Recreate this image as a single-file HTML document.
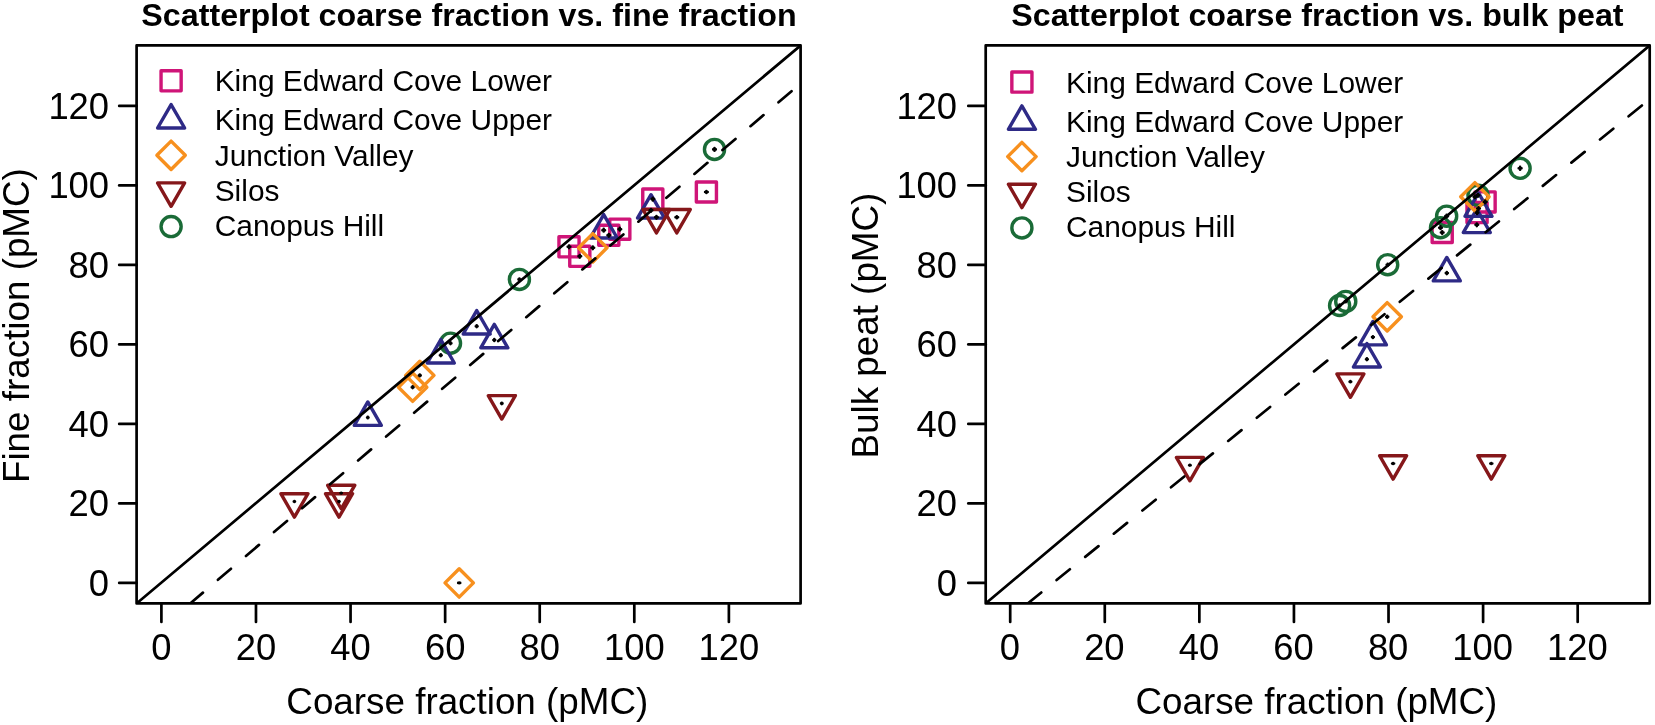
<!DOCTYPE html>
<html lang="en"><head><meta charset="utf-8"><title>Scatterplots</title>
<style>html,body{margin:0;padding:0;background:#fff}svg{display:block;will-change:transform;transform:translateZ(0)}</style></head>
<body>
<svg width="1655" height="725" viewBox="0 0 1655 725">
<g font-family="'Liberation Sans', Arial, Helvetica, sans-serif" fill="#000">
<text x="469.00" y="26.1" font-size="32.22" font-weight="bold" text-anchor="middle">Scatterplot coarse fraction vs. fine fraction</text>
<text x="467.30" y="713.7" font-size="36.8" text-anchor="middle">Coarse fraction (pMC)</text>
<text transform="translate(29.20,325.6) rotate(-90)" font-size="36.8" text-anchor="middle">Fine fraction (pMC)</text>
<line x1="161.40" y1="603.4" x2="161.40" y2="622.0" stroke="#000" stroke-width="2.7" stroke-linecap="round"/>
<text x="161.40" y="660.1" font-size="36.4" text-anchor="middle">0</text>
<line x1="136.6" y1="582.95" x2="119.20" y2="582.95" stroke="#000" stroke-width="2.7" stroke-linecap="round"/>
<text x="109.10" y="595.95" font-size="36.4" text-anchor="end">0</text>
<line x1="255.98" y1="603.4" x2="255.98" y2="622.0" stroke="#000" stroke-width="2.7" stroke-linecap="round"/>
<text x="255.98" y="660.1" font-size="36.4" text-anchor="middle">20</text>
<line x1="136.6" y1="503.45" x2="119.20" y2="503.45" stroke="#000" stroke-width="2.7" stroke-linecap="round"/>
<text x="109.10" y="516.45" font-size="36.4" text-anchor="end">20</text>
<line x1="350.56" y1="603.4" x2="350.56" y2="622.0" stroke="#000" stroke-width="2.7" stroke-linecap="round"/>
<text x="350.56" y="660.1" font-size="36.4" text-anchor="middle">40</text>
<line x1="136.6" y1="423.95" x2="119.20" y2="423.95" stroke="#000" stroke-width="2.7" stroke-linecap="round"/>
<text x="109.10" y="436.95" font-size="36.4" text-anchor="end">40</text>
<line x1="445.14" y1="603.4" x2="445.14" y2="622.0" stroke="#000" stroke-width="2.7" stroke-linecap="round"/>
<text x="445.14" y="660.1" font-size="36.4" text-anchor="middle">60</text>
<line x1="136.6" y1="344.45" x2="119.20" y2="344.45" stroke="#000" stroke-width="2.7" stroke-linecap="round"/>
<text x="109.10" y="357.45" font-size="36.4" text-anchor="end">60</text>
<line x1="539.72" y1="603.4" x2="539.72" y2="622.0" stroke="#000" stroke-width="2.7" stroke-linecap="round"/>
<text x="539.72" y="660.1" font-size="36.4" text-anchor="middle">80</text>
<line x1="136.6" y1="264.95" x2="119.20" y2="264.95" stroke="#000" stroke-width="2.7" stroke-linecap="round"/>
<text x="109.10" y="277.95" font-size="36.4" text-anchor="end">80</text>
<line x1="634.30" y1="603.4" x2="634.30" y2="622.0" stroke="#000" stroke-width="2.7" stroke-linecap="round"/>
<text x="634.30" y="660.1" font-size="36.4" text-anchor="middle">100</text>
<line x1="136.6" y1="185.45" x2="119.20" y2="185.45" stroke="#000" stroke-width="2.7" stroke-linecap="round"/>
<text x="109.10" y="198.45" font-size="36.4" text-anchor="end">100</text>
<line x1="728.88" y1="603.4" x2="728.88" y2="622.0" stroke="#000" stroke-width="2.7" stroke-linecap="round"/>
<text x="728.88" y="660.1" font-size="36.4" text-anchor="middle">120</text>
<line x1="136.6" y1="105.95" x2="119.20" y2="105.95" stroke="#000" stroke-width="2.7" stroke-linecap="round"/>
<text x="109.10" y="118.95" font-size="36.4" text-anchor="end">120</text>
<rect x="161.05" y="70.75" width="20.10" height="20.10" fill="none" stroke="#cf1578" stroke-width="3.4" stroke-linejoin="round"/>
<text x="214.70" y="91.40" font-size="29.9">King Edward Cove Lower</text>
<polygon points="171.10,104.57 184.63,128.01 157.57,128.01" fill="none" stroke="#2e2a86" stroke-width="3.4" stroke-linejoin="round"/>
<text x="214.70" y="130.40" font-size="29.9">King Edward Cove Upper</text>
<polygon points="171.10,141.09 185.31,155.30 171.10,169.51 156.89,155.30" fill="none" stroke="#f7901e" stroke-width="3.4" stroke-linejoin="round"/>
<text x="214.70" y="165.70" font-size="29.9">Junction Valley</text>
<polygon points="171.10,206.33 184.63,182.89 157.57,182.89" fill="none" stroke="#85171a" stroke-width="3.4" stroke-linejoin="round"/>
<text x="214.70" y="200.90" font-size="29.9">Silos</text>
<circle cx="171.10" cy="226.60" r="10.05" fill="none" stroke="#1a6b37" stroke-width="3.4" stroke-linejoin="round"/>
<text x="214.70" y="236.00" font-size="29.9">Canopus Hill</text>
<rect x="558.95" y="236.75" width="20.10" height="20.10" fill="none" stroke="#cf1578" stroke-width="3.4" stroke-linejoin="round"/>
<rect x="569.75" y="246.25" width="20.10" height="20.10" fill="none" stroke="#cf1578" stroke-width="3.4" stroke-linejoin="round"/>
<rect x="598.75" y="225.25" width="20.10" height="20.10" fill="none" stroke="#cf1578" stroke-width="3.4" stroke-linejoin="round"/>
<rect x="609.75" y="219.15" width="20.10" height="20.10" fill="none" stroke="#cf1578" stroke-width="3.4" stroke-linejoin="round"/>
<rect x="642.75" y="189.05" width="20.10" height="20.10" fill="none" stroke="#cf1578" stroke-width="3.4" stroke-linejoin="round"/>
<rect x="696.35" y="181.95" width="20.10" height="20.10" fill="none" stroke="#cf1578" stroke-width="3.4" stroke-linejoin="round"/>
<circle cx="714.50" cy="149.40" r="10.05" fill="none" stroke="#1a6b37" stroke-width="3.4" stroke-linejoin="round"/>
<circle cx="519.40" cy="279.40" r="10.05" fill="none" stroke="#1a6b37" stroke-width="3.4" stroke-linejoin="round"/>
<circle cx="450.50" cy="343.20" r="10.05" fill="none" stroke="#1a6b37" stroke-width="3.4" stroke-linejoin="round"/>
<polygon points="603.70,214.57 617.23,238.01 590.17,238.01" fill="none" stroke="#2e2a86" stroke-width="3.4" stroke-linejoin="round"/>
<polygon points="651.00,194.67 664.53,218.11 637.47,218.11" fill="none" stroke="#2e2a86" stroke-width="3.4" stroke-linejoin="round"/>
<polygon points="476.70,310.57 490.23,334.01 463.17,334.01" fill="none" stroke="#2e2a86" stroke-width="3.4" stroke-linejoin="round"/>
<polygon points="494.30,324.37 507.83,347.81 480.77,347.81" fill="none" stroke="#2e2a86" stroke-width="3.4" stroke-linejoin="round"/>
<polygon points="440.80,339.57 454.33,363.01 427.27,363.01" fill="none" stroke="#2e2a86" stroke-width="3.4" stroke-linejoin="round"/>
<polygon points="367.80,401.97 381.33,425.41 354.27,425.41" fill="none" stroke="#2e2a86" stroke-width="3.4" stroke-linejoin="round"/>
<polygon points="592.80,233.59 607.01,247.80 592.80,262.01 578.59,247.80" fill="none" stroke="#f7901e" stroke-width="3.4" stroke-linejoin="round"/>
<polygon points="419.80,361.19 434.01,375.40 419.80,389.61 405.59,375.40" fill="none" stroke="#f7901e" stroke-width="3.4" stroke-linejoin="round"/>
<polygon points="412.65,372.99 426.86,387.20 412.65,401.41 398.44,387.20" fill="none" stroke="#f7901e" stroke-width="3.4" stroke-linejoin="round"/>
<polygon points="459.20,568.69 473.41,582.90 459.20,597.11 444.99,582.90" fill="none" stroke="#f7901e" stroke-width="3.4" stroke-linejoin="round"/>
<polygon points="656.45,232.93 669.98,209.49 642.92,209.49" fill="none" stroke="#85171a" stroke-width="3.4" stroke-linejoin="round"/>
<polygon points="676.80,232.93 690.33,209.49 663.27,209.49" fill="none" stroke="#85171a" stroke-width="3.4" stroke-linejoin="round"/>
<polygon points="501.80,419.03 515.33,395.59 488.27,395.59" fill="none" stroke="#85171a" stroke-width="3.4" stroke-linejoin="round"/>
<polygon points="294.40,517.13 307.93,493.69 280.87,493.69" fill="none" stroke="#85171a" stroke-width="3.4" stroke-linejoin="round"/>
<polygon points="341.20,508.73 354.73,485.29 327.67,485.29" fill="none" stroke="#85171a" stroke-width="3.4" stroke-linejoin="round"/>
<polygon points="339.00,517.13 352.53,493.69 325.47,493.69" fill="none" stroke="#85171a" stroke-width="3.4" stroke-linejoin="round"/>
<path d="M567.70,246.80H570.30M569.00,245.50V248.10" stroke="#000" stroke-width="2.6" stroke-linecap="round" fill="none"/>
<path d="M578.50,256.30H581.10M579.80,255.00V257.60" stroke="#000" stroke-width="2.6" stroke-linecap="round" fill="none"/>
<path d="M607.50,235.30H610.10M608.80,234.00V236.60" stroke="#000" stroke-width="2.6" stroke-linecap="round" fill="none"/>
<path d="M618.50,229.20H621.10M619.80,227.90V230.50" stroke="#000" stroke-width="2.6" stroke-linecap="round" fill="none"/>
<path d="M651.50,199.10H654.10M652.80,197.80V200.40" stroke="#000" stroke-width="2.6" stroke-linecap="round" fill="none"/>
<path d="M705.10,192.00H707.70M706.40,191.00V193.00" stroke="#000" stroke-width="2.6" stroke-linecap="round" fill="none"/>
<path d="M713.20,149.40H715.80M714.50,148.10V150.70" stroke="#000" stroke-width="2.6" stroke-linecap="round" fill="none"/>
<path d="M518.50,279.40H520.30M519.40,278.50V280.30" stroke="#000" stroke-width="2.6" stroke-linecap="round" fill="none"/>
<path d="M449.60,343.20H451.40M450.50,342.30V344.10" stroke="#000" stroke-width="2.6" stroke-linecap="round" fill="none"/>
<path d="M602.40,230.20H605.00M603.70,228.90V231.50" stroke="#000" stroke-width="2.6" stroke-linecap="round" fill="none"/>
<path d="M649.70,210.30H652.30M651.00,209.00V211.60" stroke="#000" stroke-width="2.6" stroke-linecap="round" fill="none"/>
<path d="M475.80,326.20H477.60M476.70,325.30V327.10" stroke="#000" stroke-width="2.6" stroke-linecap="round" fill="none"/>
<path d="M493.40,340.00H495.20M494.30,339.10V340.90" stroke="#000" stroke-width="2.6" stroke-linecap="round" fill="none"/>
<path d="M439.90,355.20H441.70M440.80,354.30V356.10" stroke="#000" stroke-width="2.6" stroke-linecap="round" fill="none"/>
<path d="M367.10,417.60H368.50M367.80,416.90V418.30" stroke="#000" stroke-width="2.6" stroke-linecap="round" fill="none"/>
<path d="M591.50,247.80H594.10M592.80,246.50V249.10" stroke="#000" stroke-width="2.6" stroke-linecap="round" fill="none"/>
<path d="M418.90,375.40H420.70M419.80,374.50V376.30" stroke="#000" stroke-width="2.6" stroke-linecap="round" fill="none"/>
<path d="M411.75,387.20H413.55M412.65,386.30V388.10" stroke="#000" stroke-width="2.6" stroke-linecap="round" fill="none"/>
<path d="M458.20,582.90H460.20M459.20,582.60V583.20" stroke="#000" stroke-width="2.6" stroke-linecap="round" fill="none"/>
<path d="M655.15,217.30H657.75M656.45,216.00V218.60" stroke="#000" stroke-width="2.6" stroke-linecap="round" fill="none"/>
<path d="M675.50,217.30H678.10M676.80,216.30V218.30" stroke="#000" stroke-width="2.6" stroke-linecap="round" fill="none"/>
<path d="M501.10,403.40H502.50M501.80,402.70V404.10" stroke="#000" stroke-width="2.6" stroke-linecap="round" fill="none"/>
<path d="M293.80,501.50H295.00M294.40,501.10V501.90" stroke="#000" stroke-width="2.6" stroke-linecap="round" fill="none"/>
<path d="M340.60,493.10H341.80M341.20,492.70V493.50" stroke="#000" stroke-width="2.6" stroke-linecap="round" fill="none"/>
<path d="M338.40,501.50H339.60M339.00,501.10V501.90" stroke="#000" stroke-width="2.6" stroke-linecap="round" fill="none"/>
<clipPath id="c0"><rect x="136.6" y="45.45" width="664.0" height="557.9499999999999"/></clipPath>
<g clip-path="url(#c0)" stroke="#000" stroke-width="2.7" stroke-linecap="round" fill="none">
<line x1="136.6" y1="603.4" x2="800.6" y2="45.45"/>
<line x1="189.92" y1="603.72" x2="875.02" y2="20.09" stroke-dasharray="17.1 19.72"/>
</g>
<rect x="136.6" y="45.45" width="664.0" height="557.95" fill="none" stroke="#000" stroke-width="2.7" stroke-linejoin="round"/>
</g>
<g font-family="'Liberation Sans', Arial, Helvetica, sans-serif" fill="#000">
<text x="1317.40" y="26.1" font-size="32.22" font-weight="bold" text-anchor="middle">Scatterplot coarse fraction vs. bulk peat</text>
<text x="1316.40" y="713.7" font-size="36.8" text-anchor="middle">Coarse fraction (pMC)</text>
<text transform="translate(878.30,325.6) rotate(-90)" font-size="36.8" text-anchor="middle">Bulk peat (pMC)</text>
<line x1="1010.20" y1="603.4" x2="1010.20" y2="622.0" stroke="#000" stroke-width="2.7" stroke-linecap="round"/>
<text x="1009.80" y="659.5" font-size="36.4" text-anchor="middle">0</text>
<line x1="985.7" y1="582.95" x2="968.30" y2="582.95" stroke="#000" stroke-width="2.7" stroke-linecap="round"/>
<text x="957.10" y="595.95" font-size="36.4" text-anchor="end">0</text>
<line x1="1104.78" y1="603.4" x2="1104.78" y2="622.0" stroke="#000" stroke-width="2.7" stroke-linecap="round"/>
<text x="1104.38" y="659.5" font-size="36.4" text-anchor="middle">20</text>
<line x1="985.7" y1="503.45" x2="968.30" y2="503.45" stroke="#000" stroke-width="2.7" stroke-linecap="round"/>
<text x="957.10" y="516.45" font-size="36.4" text-anchor="end">20</text>
<line x1="1199.36" y1="603.4" x2="1199.36" y2="622.0" stroke="#000" stroke-width="2.7" stroke-linecap="round"/>
<text x="1198.96" y="659.5" font-size="36.4" text-anchor="middle">40</text>
<line x1="985.7" y1="423.95" x2="968.30" y2="423.95" stroke="#000" stroke-width="2.7" stroke-linecap="round"/>
<text x="957.10" y="436.95" font-size="36.4" text-anchor="end">40</text>
<line x1="1293.94" y1="603.4" x2="1293.94" y2="622.0" stroke="#000" stroke-width="2.7" stroke-linecap="round"/>
<text x="1293.54" y="659.5" font-size="36.4" text-anchor="middle">60</text>
<line x1="985.7" y1="344.45" x2="968.30" y2="344.45" stroke="#000" stroke-width="2.7" stroke-linecap="round"/>
<text x="957.10" y="357.45" font-size="36.4" text-anchor="end">60</text>
<line x1="1388.52" y1="603.4" x2="1388.52" y2="622.0" stroke="#000" stroke-width="2.7" stroke-linecap="round"/>
<text x="1388.12" y="659.5" font-size="36.4" text-anchor="middle">80</text>
<line x1="985.7" y1="264.95" x2="968.30" y2="264.95" stroke="#000" stroke-width="2.7" stroke-linecap="round"/>
<text x="957.10" y="277.95" font-size="36.4" text-anchor="end">80</text>
<line x1="1483.10" y1="603.4" x2="1483.10" y2="622.0" stroke="#000" stroke-width="2.7" stroke-linecap="round"/>
<text x="1482.70" y="659.5" font-size="36.4" text-anchor="middle">100</text>
<line x1="985.7" y1="185.45" x2="968.30" y2="185.45" stroke="#000" stroke-width="2.7" stroke-linecap="round"/>
<text x="957.10" y="198.45" font-size="36.4" text-anchor="end">100</text>
<line x1="1577.68" y1="603.4" x2="1577.68" y2="622.0" stroke="#000" stroke-width="2.7" stroke-linecap="round"/>
<text x="1577.28" y="659.5" font-size="36.4" text-anchor="middle">120</text>
<line x1="985.7" y1="105.95" x2="968.30" y2="105.95" stroke="#000" stroke-width="2.7" stroke-linecap="round"/>
<text x="957.10" y="118.95" font-size="36.4" text-anchor="end">120</text>
<rect x="1011.85" y="72.05" width="20.10" height="20.10" fill="none" stroke="#cf1578" stroke-width="3.4" stroke-linejoin="round"/>
<text x="1066.01" y="92.70" font-size="29.9">King Edward Cove Lower</text>
<polygon points="1021.90,105.87 1035.43,129.31 1008.37,129.31" fill="none" stroke="#2e2a86" stroke-width="3.4" stroke-linejoin="round"/>
<text x="1066.01" y="131.70" font-size="29.9">King Edward Cove Upper</text>
<polygon points="1021.90,142.39 1036.11,156.60 1021.90,170.81 1007.69,156.60" fill="none" stroke="#f7901e" stroke-width="3.4" stroke-linejoin="round"/>
<text x="1066.01" y="167.00" font-size="29.9">Junction Valley</text>
<polygon points="1021.90,207.63 1035.43,184.19 1008.37,184.19" fill="none" stroke="#85171a" stroke-width="3.4" stroke-linejoin="round"/>
<text x="1066.01" y="202.20" font-size="29.9">Silos</text>
<circle cx="1021.90" cy="227.90" r="10.05" fill="none" stroke="#1a6b37" stroke-width="3.4" stroke-linejoin="round"/>
<text x="1066.01" y="237.30" font-size="29.9">Canopus Hill</text>
<rect x="1432.15" y="222.45" width="20.10" height="20.10" fill="none" stroke="#cf1578" stroke-width="3.4" stroke-linejoin="round"/>
<rect x="1475.05" y="191.85" width="20.10" height="20.10" fill="none" stroke="#cf1578" stroke-width="3.4" stroke-linejoin="round"/>
<rect x="1467.00" y="202.55" width="20.10" height="20.10" fill="none" stroke="#cf1578" stroke-width="3.4" stroke-linejoin="round"/>
<circle cx="1520.10" cy="168.30" r="10.05" fill="none" stroke="#1a6b37" stroke-width="3.4" stroke-linejoin="round"/>
<circle cx="1478.00" cy="195.30" r="10.05" fill="none" stroke="#1a6b37" stroke-width="3.4" stroke-linejoin="round"/>
<circle cx="1446.65" cy="216.15" r="10.05" fill="none" stroke="#1a6b37" stroke-width="3.4" stroke-linejoin="round"/>
<circle cx="1440.50" cy="227.70" r="10.05" fill="none" stroke="#1a6b37" stroke-width="3.4" stroke-linejoin="round"/>
<circle cx="1387.70" cy="264.70" r="10.05" fill="none" stroke="#1a6b37" stroke-width="3.4" stroke-linejoin="round"/>
<circle cx="1339.60" cy="305.50" r="10.05" fill="none" stroke="#1a6b37" stroke-width="3.4" stroke-linejoin="round"/>
<circle cx="1345.75" cy="301.40" r="10.05" fill="none" stroke="#1a6b37" stroke-width="3.4" stroke-linejoin="round"/>
<polygon points="1478.50,192.92 1492.03,216.36 1464.97,216.36" fill="none" stroke="#2e2a86" stroke-width="3.4" stroke-linejoin="round"/>
<polygon points="1476.80,209.17 1490.33,232.61 1463.27,232.61" fill="none" stroke="#2e2a86" stroke-width="3.4" stroke-linejoin="round"/>
<polygon points="1446.80,257.47 1460.33,280.91 1433.27,280.91" fill="none" stroke="#2e2a86" stroke-width="3.4" stroke-linejoin="round"/>
<polygon points="1372.90,321.47 1386.43,344.91 1359.37,344.91" fill="none" stroke="#2e2a86" stroke-width="3.4" stroke-linejoin="round"/>
<polygon points="1366.90,343.57 1380.43,367.01 1353.37,367.01" fill="none" stroke="#2e2a86" stroke-width="3.4" stroke-linejoin="round"/>
<polygon points="1474.90,182.59 1489.11,196.80 1474.90,211.01 1460.69,196.80" fill="none" stroke="#f7901e" stroke-width="3.4" stroke-linejoin="round"/>
<polygon points="1387.20,302.59 1401.41,316.80 1387.20,331.01 1372.99,316.80" fill="none" stroke="#f7901e" stroke-width="3.4" stroke-linejoin="round"/>
<polygon points="1350.40,397.33 1363.93,373.89 1336.87,373.89" fill="none" stroke="#85171a" stroke-width="3.4" stroke-linejoin="round"/>
<polygon points="1189.90,480.83 1203.43,457.39 1176.37,457.39" fill="none" stroke="#85171a" stroke-width="3.4" stroke-linejoin="round"/>
<polygon points="1393.10,479.13 1406.63,455.69 1379.57,455.69" fill="none" stroke="#85171a" stroke-width="3.4" stroke-linejoin="round"/>
<polygon points="1491.30,479.13 1504.83,455.69 1477.77,455.69" fill="none" stroke="#85171a" stroke-width="3.4" stroke-linejoin="round"/>
<path d="M1440.90,232.50H1443.50M1442.20,231.20V233.80" stroke="#000" stroke-width="2.6" stroke-linecap="round" fill="none"/>
<path d="M1483.80,201.90H1486.40M1485.10,200.60V203.20" stroke="#000" stroke-width="2.6" stroke-linecap="round" fill="none"/>
<path d="M1475.75,212.60H1478.35M1477.05,211.30V213.90" stroke="#000" stroke-width="2.6" stroke-linecap="round" fill="none"/>
<path d="M1518.70,168.30H1521.50M1520.10,166.90V169.70" stroke="#000" stroke-width="2.6" stroke-linecap="round" fill="none"/>
<path d="M1476.70,195.30H1479.30M1478.00,194.00V196.60" stroke="#000" stroke-width="2.6" stroke-linecap="round" fill="none"/>
<path d="M1445.35,216.15H1447.95M1446.65,214.85V217.45" stroke="#000" stroke-width="2.6" stroke-linecap="round" fill="none"/>
<path d="M1439.20,227.70H1441.80M1440.50,226.40V229.00" stroke="#000" stroke-width="2.6" stroke-linecap="round" fill="none"/>
<path d="M1386.70,264.70H1388.70M1387.70,263.70V265.70" stroke="#000" stroke-width="2.6" stroke-linecap="round" fill="none"/>
<path d="M1338.70,305.50H1340.50M1339.60,304.60V306.40" stroke="#000" stroke-width="2.6" stroke-linecap="round" fill="none"/>
<path d="M1344.85,301.40H1346.65M1345.75,300.50V302.30" stroke="#000" stroke-width="2.6" stroke-linecap="round" fill="none"/>
<path d="M1477.20,208.55H1479.80M1478.50,207.25V209.85" stroke="#000" stroke-width="2.6" stroke-linecap="round" fill="none"/>
<path d="M1475.50,224.80H1478.10M1476.80,223.50V226.10" stroke="#000" stroke-width="2.6" stroke-linecap="round" fill="none"/>
<path d="M1445.80,273.10H1447.80M1446.80,272.10V274.10" stroke="#000" stroke-width="2.6" stroke-linecap="round" fill="none"/>
<path d="M1372.00,337.10H1373.80M1372.90,336.20V338.00" stroke="#000" stroke-width="2.6" stroke-linecap="round" fill="none"/>
<path d="M1366.00,359.20H1367.80M1366.90,358.30V360.10" stroke="#000" stroke-width="2.6" stroke-linecap="round" fill="none"/>
<path d="M1473.60,196.80H1476.20M1474.90,195.50V198.10" stroke="#000" stroke-width="2.6" stroke-linecap="round" fill="none"/>
<path d="M1386.20,316.80H1388.20M1387.20,315.80V317.80" stroke="#000" stroke-width="2.6" stroke-linecap="round" fill="none"/>
<path d="M1349.60,381.70H1351.20M1350.40,381.10V382.30" stroke="#000" stroke-width="2.6" stroke-linecap="round" fill="none"/>
<path d="M1189.10,465.20H1190.70M1189.90,464.80V465.60" stroke="#000" stroke-width="2.6" stroke-linecap="round" fill="none"/>
<path d="M1392.10,463.50H1394.10M1393.10,463.10V463.90" stroke="#000" stroke-width="2.6" stroke-linecap="round" fill="none"/>
<path d="M1490.30,463.50H1492.30M1491.30,463.10V463.90" stroke="#000" stroke-width="2.6" stroke-linecap="round" fill="none"/>
<clipPath id="c849"><rect x="985.7" y="45.45" width="664.0" height="557.9499999999999"/></clipPath>
<g clip-path="url(#c849)" stroke="#000" stroke-width="2.7" stroke-linecap="round" fill="none">
<line x1="985.7" y1="603.4" x2="1649.7" y2="45.45"/>
<line x1="1028.01" y1="603.25" x2="1727.09" y2="36.43" stroke-dasharray="17.1 19.72"/>
</g>
<rect x="985.7" y="45.45" width="664.0" height="557.95" fill="none" stroke="#000" stroke-width="2.7" stroke-linejoin="round"/>
</g>
</svg>
</body></html>
